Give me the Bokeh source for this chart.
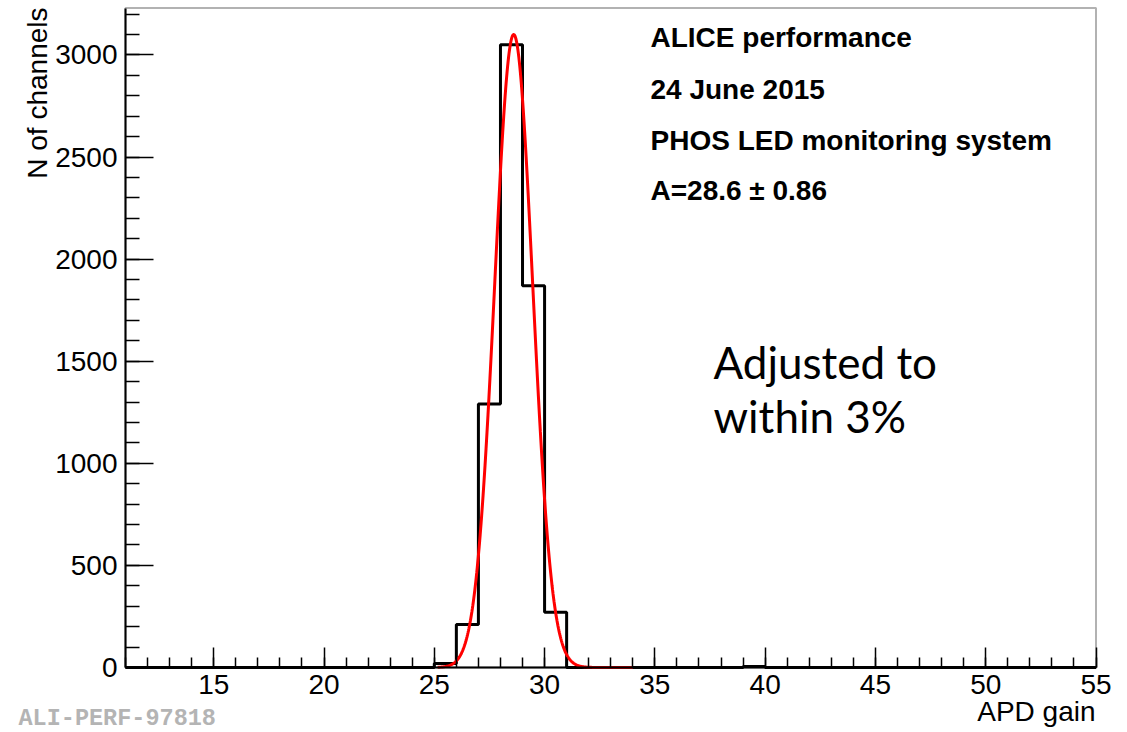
import numpy as np
from bokeh.plotting import figure
from bokeh.models import Range1d, SingleIntervalTicker, Label, BoxAnnotation
from bokeh.embed import file_html
from bokeh.resources import INLINE

# ---- data ----
bin_lo = list(range(11, 55))  # bins of width 1, from 11 to 55
counts = [0, 0, 0, 0, 0, 0, 0, 0, 0, 0, 0, 0, 0, 0,      # 11..24
          20, 210, 1290, 3050, 1870, 270,                 # 25..30
          0, 0, 0, 0, 0, 0, 0, 0,                         # 31..38
          5,                                              # 39
          0, 0, 0, 0, 0, 0, 0, 0, 0, 0, 0, 0, 0, 0, 0]    # 40..54
fit_const = 3100.0
fit_mean = 28.6
fit_sigma = 0.86
fit_range = (25.15, 34.0)

x_lo, x_hi = 11, 55
y_lo, y_hi = 0, 3230

info_lines = ["ALICE performance", "24 June 2015", "PHOS LED monitoring system", "A=28.6 \u00b1 0.86"]
note_lines = ["Adjusted to", "within 3%"]
x_title = "APD gain"
y_title = "N of channels"
tag = "ALI-PERF-97818"

FONT = "Liberation Sans"
W, H = 1127, 732

# frame covers the whole canvas; the visible plot box is [x_lo,x_hi]x[y_lo,y_hi]
box_l, box_r, box_t, box_b = 125.0, 1095.5, 7.5, 667.0
sx = (box_r - box_l) / (x_hi - x_lo)
sy = (box_b - box_t) / (y_hi - y_lo)
X0 = x_lo - box_l / sx
X1 = x_hi + (W - box_r) / sx
Y0 = y_lo - (H - box_b) / sy
Y1 = y_hi + box_t / sy

def dx(px):
    return X0 + px / sx

def dy(py):
    return Y1 - py / sy

p = figure(width=W, height=H, x_range=Range1d(X0, X1), y_range=Range1d(Y0, Y1),
           output_backend="svg", toolbar_location=None, min_border=0)
p.title.visible = False
p.xgrid.visible = False
p.ygrid.visible = False
p.background_fill_color = "white"
p.border_fill_color = "white"
p.outline_line_color = None

p.xaxis.ticker = SingleIntervalTicker(interval=5, num_minor_ticks=5)
p.yaxis.ticker = SingleIntervalTicker(interval=500, num_minor_ticks=5)
p.xaxis.fixed_location = y_lo
p.yaxis.fixed_location = x_lo
p.xaxis.bounds = (x_lo, x_hi)
p.yaxis.bounds = (y_lo, y_hi)
for ax in (p.xaxis, p.yaxis):
    ax.axis_line_width = 2
    ax.axis_line_color = "black"
    ax.major_tick_line_width = 1.5
    ax.minor_tick_line_width = 1.5
    ax.major_tick_out = 0
    ax.minor_tick_out = 0
    ax.major_label_text_font = FONT
    ax.major_label_text_font_size = "28px"
    ax.major_label_text_color = "black"
p.xaxis.major_tick_in = 20
p.xaxis.minor_tick_in = 10
p.yaxis.major_tick_in = 28
p.yaxis.minor_tick_in = 14
p.xaxis.major_label_standoff = 7
p.yaxis.major_label_standoff = 8

# plot box (top and right edges)
p.add_layout(BoxAnnotation(left=x_lo, right=x_hi, bottom=y_lo, top=y_hi,
                           fill_color=None, fill_alpha=0, line_color="black", line_width=2))

# histogram outline
edges = bin_lo + [bin_lo[-1] + 1]
yvals = counts + [counts[-1]]
p.step(x=edges, y=yvals, mode="after", line_color="black", line_width=3)

# gaussian fit
xf = np.linspace(fit_range[0], fit_range[1], 400)
yf = fit_const * np.exp(-0.5 * ((xf - fit_mean) / fit_sigma) ** 2)
p.line(xf, yf, line_color="#ff0000", line_width=3)

# empirical baseline correction (fraction of font size)
BC = 0.4

for txt, base in zip(info_lines, [48, 100, 151, 201]):
    p.add_layout(Label(x=dx(650), y=dy(base - BC * 28), text=txt, text_font=FONT,
                       text_font_size="28px", text_font_style="bold",
                       text_baseline="alphabetic", text_align="left", text_color="black"))

for txt, base in zip(note_lines, [379, 433]):
    p.add_layout(Label(x=dx(713), y=dy(base - BC * 44), text=txt, text_font="Lato",
                       text_font_size="44px", text_baseline="alphabetic",
                       text_align="left", text_color="black"))

p.add_layout(Label(x=dx(1095), y=dy(722 - BC * 28), text=x_title, text_font=FONT,
                   text_font_size="28px", text_baseline="alphabetic", text_align="right",
                   text_color="black"))
p.add_layout(Label(x=dx(48 - BC * 28), y=dy(7), text=y_title, text_font=FONT, angle=np.pi / 2,
                   text_font_size="28px", text_baseline="alphabetic", text_align="right",
                   text_color="black"))
p.add_layout(Label(x=dx(18), y=dy(727 - BC * 23.5), text=tag, text_font="Liberation Mono",
                   text_font_size="23.5px", text_font_style="bold", text_baseline="alphabetic",
                   text_align="left", text_color="#b4b4b4"))

open("out.html", "w").write(file_html(p, INLINE))
